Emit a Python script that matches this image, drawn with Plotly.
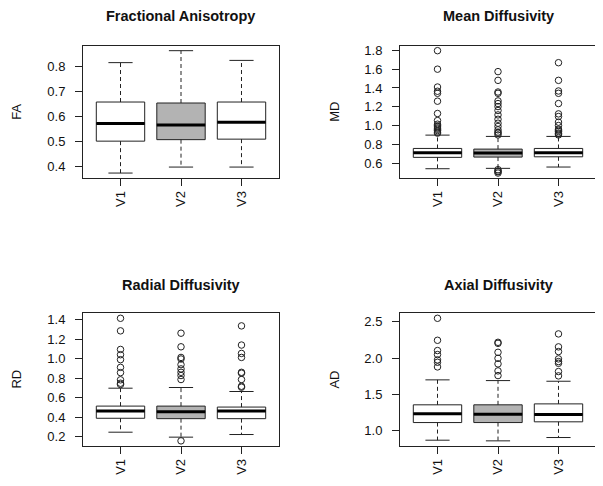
import plotly.graph_objects as go

groups = ["V1", "V2", "V3"]
fills = ["white", "#B3B3B3", "white"]

panels = ["Fractional Anisotropy", "Mean Diffusivity", "Radial Diffusivity", "Axial Diffusivity"]
ylabels = ["FA", "MD", "RD", "AD"]
dticks = [0.1, 0.2, 0.2, 0.5]

# box statistics per panel: [V1, V2, V3]
fa_low = [0.373, 0.397, 0.397]
fa_q1 = [0.501, 0.507, 0.509]
fa_med = [0.572, 0.566, 0.577]
fa_q3 = [0.658, 0.654, 0.658]
fa_up = [0.816, 0.864, 0.825]
fa_out = [[], [], []]

md_low = [0.540, 0.544, 0.558]
md_q1 = [0.661, 0.664, 0.667]
md_med = [0.710, 0.707, 0.710]
md_q3 = [0.756, 0.749, 0.756]
md_up = [0.898, 0.884, 0.884]
md_out = [
    [1.797, 1.600, 1.410, 1.365, 1.343, 1.259, 1.128, 1.053, 1.014, 0.997, 0.985, 0.972, 0.960, 0.947, 0.930, 0.919],
    [1.574, 1.481, 1.357, 1.343, 1.262, 1.234, 1.202, 1.160, 1.113, 1.067, 1.025, 0.990, 0.954, 0.930, 0.919, 0.900,
     0.530, 0.515, 0.508, 0.494],
    [1.669, 1.481, 1.368, 1.343, 1.234, 1.124, 1.096, 1.036, 1.000, 0.961, 0.950, 0.937, 0.920, 0.911, 0.900],
]

rd_low = [0.244, 0.193, 0.220]
rd_q1 = [0.387, 0.383, 0.383]
rd_med = [0.461, 0.455, 0.461]
rd_q3 = [0.512, 0.512, 0.502]
rd_up = [0.696, 0.703, 0.662]
rd_out = [
    [1.414, 1.285, 1.094, 1.040, 0.989, 0.910, 0.856, 0.782, 0.747, 0.734],
    [1.261, 1.121, 1.012, 0.996, 0.938, 0.894, 0.859, 0.826, 0.785, 0.155],
    [1.336, 1.139, 1.053, 1.012, 0.859, 0.850, 0.785, 0.716, 0.706],
]

ad_low = [0.865, 0.856, 0.902]
ad_q1 = [1.109, 1.109, 1.119]
ad_med = [1.229, 1.224, 1.220]
ad_q3 = [1.354, 1.354, 1.367]
ad_up = [1.699, 1.689, 1.680]
ad_out = [
    [2.550, 2.246, 2.104, 2.049, 1.975, 1.942, 1.878],
    [2.218, 2.204, 2.080, 1.997, 1.920, 1.823, 1.758],
    [2.334, 2.155, 2.090, 1.989, 1.952, 1.928, 1.814, 1.754],
]

stats = [
    (fa_low, fa_q1, fa_med, fa_q3, fa_up, fa_out),
    (md_low, md_q1, md_med, md_q3, md_up, md_out),
    (rd_low, rd_q1, rd_med, rd_q3, rd_up, rd_out),
    (ad_low, ad_q1, ad_med, ad_q3, ad_up, ad_out),
]

# page is 603x486; the html body has an 8px default margin
OFF = 8
W, H = 603 - OFF, 486 - OFF


def fx(px):
    return (px - OFF) / W


def fy(py):
    return 1 - (py - OFF) / H


xdoms = [[fx(83), fx(279)], [fx(400), fx(596)]]
ydoms = [[fy(176), fy(43)], [fy(445.5), fy(312.3)]]
title_y = [fy(13.5), fy(283.5)]
ylab_x = [fx(17), fx(335)]

FONT = "Liberation Sans, Arial, sans-serif"
LINE = "#222222"
TXT = "#111111"
BOXW = 0.8
STAPLE = 0.2

fig = go.Figure()
layout = dict(width=W, height=H, margin=dict(l=0, r=0, t=0, b=0),
              paper_bgcolor="white", plot_bgcolor="white", showlegend=False,
              font=dict(family=FONT, size=13, color=TXT), annotations=[])

for p in range(4):
    row, col = divmod(p, 2)
    sfx = "" if p == 0 else str(p + 1)
    xa, ya = "x" + sfx, "y" + sfx
    low, q1, med, q3, up, outs = stats[p]
    pos = list(range(1, len(groups) + 1))
    for i, g in enumerate(groups):
        xi = pos[i]
        # dashed whiskers
        fig.add_trace(go.Scatter(x=[xi, xi, None, xi, xi], y=[q3[i], up[i], None, q1[i], low[i]],
                                 mode="lines", line=dict(color=LINE, width=1, dash="4px,3px"),
                                 hoverinfo="skip", xaxis=xa, yaxis=ya))
        # staples
        fig.add_trace(go.Scatter(x=[xi - STAPLE, xi + STAPLE, None, xi - STAPLE, xi + STAPLE],
                                 y=[up[i], up[i], None, low[i], low[i]],
                                 mode="lines", line=dict(color=LINE, width=1),
                                 hoverinfo="skip", xaxis=xa, yaxis=ya))
        # box
        fig.add_trace(go.Box(x=[xi], q1=[q1[i]], median=[med[i]], q3=[q3[i]],
                             lowerfence=[q1[i]], upperfence=[q3[i]], width=BOXW,
                             fillcolor=fills[i], line=dict(color=LINE, width=1),
                             whiskerwidth=0, boxpoints=False, hoverinfo="skip",
                             xaxis=xa, yaxis=ya))
        # thick median
        fig.add_trace(go.Scatter(x=[xi - BOXW / 2, xi + BOXW / 2], y=[med[i], med[i]],
                                 mode="lines", line=dict(color="black", width=3),
                                 hoverinfo="skip", xaxis=xa, yaxis=ya))
        # outliers
        if outs[i]:
            fig.add_trace(go.Scatter(x=[xi] * len(outs[i]), y=outs[i], mode="markers",
                                     marker=dict(symbol="circle-open", size=6.5,
                                                 color=LINE, line=dict(width=1, color=LINE)),
                                     hoverinfo="skip", xaxis=xa, yaxis=ya))

    allv = low + up + [v for o in outs for v in o]
    lo, hi = min(allv), max(allv)
    pad = 0.04 * (hi - lo)
    layout["xaxis" + sfx] = dict(domain=xdoms[col], anchor=ya, range=[0.5 - 0.12, len(groups) + 0.5 + 0.12],
                                 tickvals=pos, ticktext=groups, tickangle=-90, ticks="outside",
                                 ticklen=7, tickcolor=LINE, showgrid=False, zeroline=False,
                                 showline=True, mirror=True, linecolor=LINE, linewidth=1,
                                 ticklabelstandoff=0, tickfont=dict(size=13, color=TXT))
    layout["yaxis" + sfx] = dict(domain=ydoms[row], anchor=xa, range=[lo - pad, hi + pad],
                                 dtick=dticks[p], tick0=0, tickformat=".1f", ticks="outside",
                                 ticklen=7, tickcolor=LINE, showgrid=False, zeroline=False,
                                 showline=True, mirror=True, linecolor=LINE, linewidth=1,
                                 ticklabelstandoff=7, tickfont=dict(size=13, color=TXT))
    layout["annotations"].append(dict(text="<b>" + panels[p] + "</b>", xref="paper", yref="paper",
                                      x=sum(xdoms[col]) / 2, y=title_y[row], xanchor="center",
                                      yanchor="middle", showarrow=False,
                                      font=dict(size=14.5, family=FONT, color=TXT)))
    layout["annotations"].append(dict(text=ylabels[p], xref="paper", yref="paper",
                                      x=ylab_x[col], y=sum(ydoms[row]) / 2, textangle=-90,
                                      xanchor="center", yanchor="middle", showarrow=False,
                                      font=dict(size=13, family=FONT, color=TXT)))

fig.update_layout(**layout)
fig.write_html("out.html")
